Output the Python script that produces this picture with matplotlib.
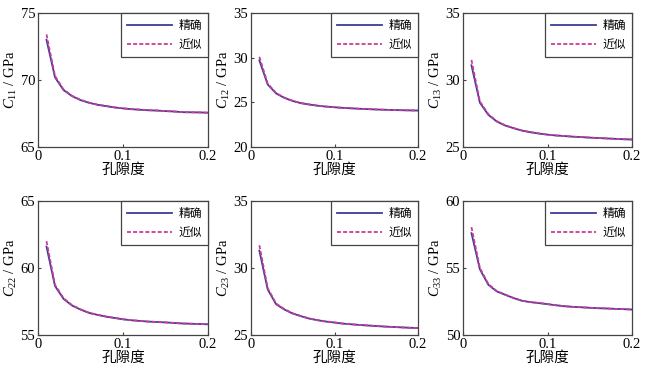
import matplotlib
matplotlib.use("Agg")
import matplotlib.pyplot as plt

plt.rcParams['font.family'] = ['Liberation Serif', 'Noto Sans CJK SC']
plt.rcParams['mathtext.fontset'] = 'custom'
plt.rcParams['mathtext.rm'] = 'Liberation Serif'
plt.rcParams['mathtext.it'] = 'Liberation Serif:italic'

porosity = [0.01, 0.02, 0.03, 0.04, 0.05, 0.06, 0.07, 0.08, 0.09, 0.10,
            0.11, 0.12, 0.13, 0.14, 0.15, 0.16, 0.17, 0.18, 0.19, 0.20]

c11_exact = [73.0, 70.2, 69.25, 68.8, 68.5, 68.3, 68.15, 68.05, 67.95, 67.88,
             67.82, 67.78, 67.74, 67.72, 67.68, 67.65, 67.6, 67.59, 67.58, 67.56]
c11_approx = [73.4, 70.3, 69.3, 68.82, 68.52, 68.31, 68.16, 68.06, 67.96, 67.89,
              67.83, 67.79, 67.75, 67.72, 67.68, 67.65, 67.6, 67.59, 67.58, 67.56]

c12_exact = [29.7, 27.0, 26.0, 25.5, 25.15, 24.9, 24.75, 24.62, 24.52, 24.45,
             24.38, 24.33, 24.28, 24.24, 24.2, 24.17, 24.14, 24.12, 24.1, 24.08]
c12_approx = [30.1, 27.1, 26.05, 25.52, 25.17, 24.92, 24.76, 24.63, 24.53, 24.45,
              24.38, 24.33, 24.28, 24.24, 24.2, 24.17, 24.14, 24.12, 24.1, 24.08]

c13_exact = [31.1, 28.3, 27.4, 26.9, 26.6, 26.4, 26.22, 26.1, 26.0, 25.92,
              25.86, 25.82, 25.77, 25.74, 25.7, 25.67, 25.64, 25.61, 25.58, 25.56]
c13_approx = [31.5, 28.4, 27.45, 26.93, 26.62, 26.41, 26.23, 26.11, 26.01, 25.93,
              25.86, 25.82, 25.77, 25.74, 25.7, 25.67, 25.64, 25.61, 25.58, 25.56]

c22_exact = [61.6, 58.65, 57.7, 57.2, 56.9, 56.65, 56.5, 56.37, 56.27, 56.17,
             56.1, 56.05, 56.0, 55.97, 55.94, 55.9, 55.86, 55.84, 55.82, 55.8]
c22_approx = [62.0, 58.75, 57.75, 57.23, 56.92, 56.66, 56.51, 56.38, 56.28, 56.18,
              56.1, 56.05, 56.0, 55.97, 55.94, 55.9, 55.86, 55.84, 55.82, 55.8]

c23_exact = [31.3, 28.4, 27.3, 26.9, 26.6, 26.4, 26.22, 26.1, 26.0, 25.93,
             25.85, 25.8, 25.75, 25.71, 25.67, 25.63, 25.6, 25.57, 25.54, 25.52]
c23_approx = [31.7, 28.5, 27.35, 26.93, 26.62, 26.41, 26.23, 26.11, 26.01, 25.94,
              25.85, 25.8, 25.75, 25.71, 25.67, 25.63, 25.6, 25.57, 25.54, 25.52]

c33_exact = [57.6, 54.9, 53.75, 53.25, 53.0, 52.75, 52.55, 52.45, 52.38, 52.3,
             52.22, 52.15, 52.1, 52.07, 52.03, 52.0, 51.98, 51.95, 51.93, 51.9]
c33_approx = [58.05, 55.0, 53.8, 53.28, 53.02, 52.76, 52.56, 52.46, 52.39, 52.31,
              52.22, 52.15, 52.1, 52.07, 52.03, 52.0, 51.98, 51.95, 51.93, 51.9]

panels = [
    ("11", c11_exact, c11_approx, (65, 75), [65, 70, 75]),
    ("12", c12_exact, c12_approx, (20, 35), [20, 25, 30, 35]),
    ("13", c13_exact, c13_approx, (25, 35), [25, 30, 35]),
    ("22", c22_exact, c22_approx, (55, 65), [55, 60, 65]),
    ("23", c23_exact, c23_approx, (25, 35), [25, 30, 35]),
    ("33", c33_exact, c33_approx, (50, 60), [50, 55, 60]),
]

legend_labels = ["精确", "近似"]
xlabel = "孔隙度"
xticks = [0, 0.1, 0.2]
xticklabels = ["0", "0.1", "0.2"]

W, H = 660, 374
fig = plt.figure(figsize=(6.6, 3.74), dpi=100)
lefts = [38, 251, 463]
widths = [170, 167, 169]
tops = [13, 201]
ah = 134

cjk = ['Noto Sans CJK SC', 'DejaVu Sans']

for i, (sub, ex, ap, ylim, yt) in enumerate(panels):
    r, c = divmod(i, 3)
    ax = fig.add_axes([lefts[c] / W, 1 - (tops[r] + ah) / H, widths[c] / W, ah / H])
    ax.plot(porosity, ex, color='#3c3c98', lw=1.3, label=legend_labels[0])
    ax.plot(porosity, ap, color='#cc3c96', lw=1.3, ls=(0, (2.2, 1.2)), label=legend_labels[1])
    ax.set_xlim(0, 0.2)
    ax.set_ylim(*ylim)
    ax.set_xticks(xticks)
    ax.set_xticklabels(xticklabels)
    ax.set_yticks(yt)
    ax.tick_params(direction='in', length=2.5, width=0.8, labelsize=10.5, pad=2, color='#444444')
    for s in ax.spines.values():
        s.set_color('#444444')
        s.set_linewidth(0.9)
    ax.set_xlabel(xlabel, family=cjk, fontsize=10.5, labelpad=0)
    ax.set_ylabel(r"$C_{%s}$ / GPa" % sub, fontsize=10.5, labelpad=1)
    leg = ax.legend(loc='upper right', borderaxespad=0, fancybox=False,
                    prop={'family': cjk, 'size': 8.5}, handlelength=3.8,
                    handletextpad=0.6, borderpad=0.5, labelspacing=0.55,
                    framealpha=1)
    leg.get_frame().set_edgecolor('#444444')
    leg.get_frame().set_linewidth(0.9)

fig.savefig("out.png", dpi=100)
